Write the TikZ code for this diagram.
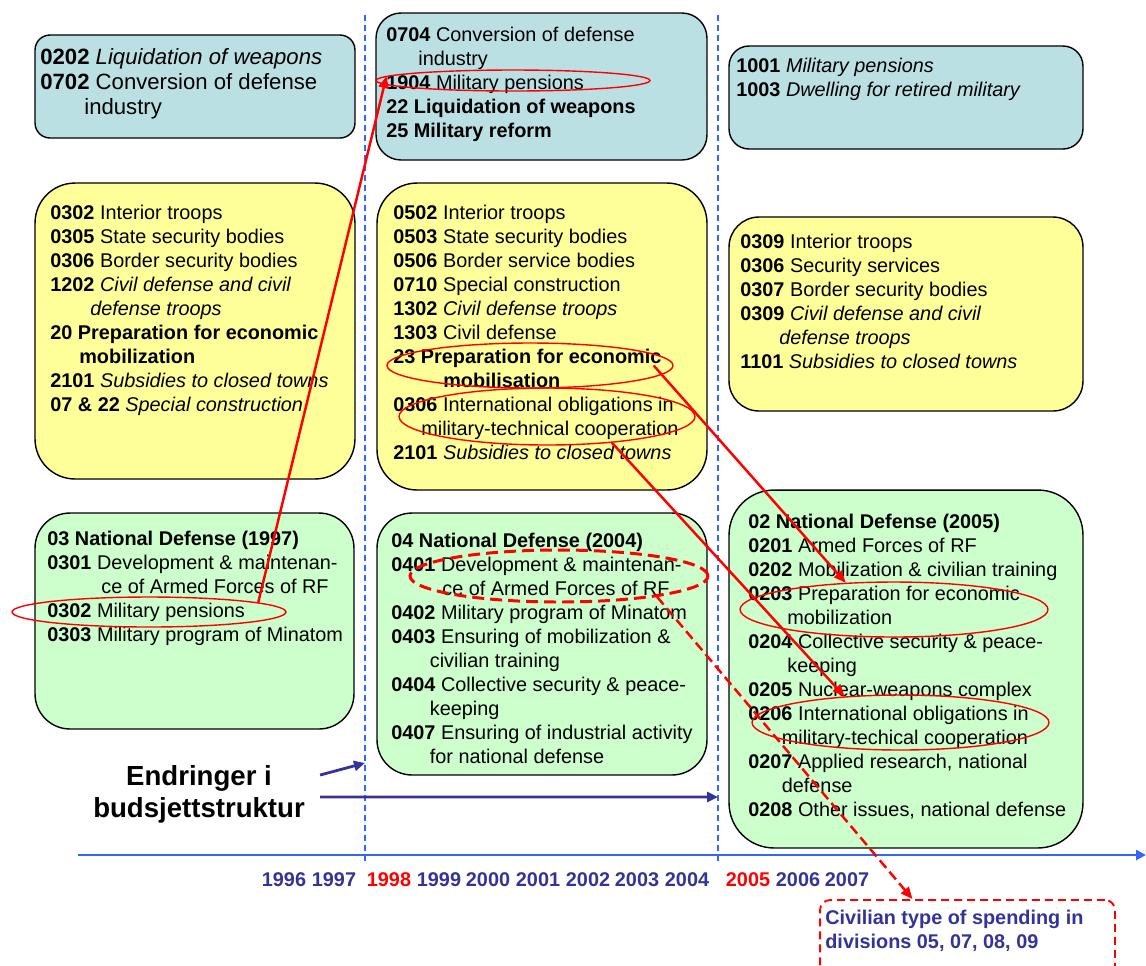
\documentclass[tikz,border=0pt]{standalone}
\usepackage{fontspec}
\setmainfont{Liberation Sans}
\usetikzlibrary{arrows.meta,shapes.geometric}
\definecolor{boxblue}{RGB}{187,224,227}
\definecolor{boxyellow}{RGB}{255,255,153}
\definecolor{boxgreen}{RGB}{204,255,204}
\definecolor{navy}{RGB}{51,51,153}
\definecolor{lineblue}{RGB}{51,102,255}
\definecolor{markred}{RGB}{255,0,0}
\begin{document}
\begin{tikzpicture}[x=0.02cm,y=-0.02cm,>={Triangle[length=0.24cm,width=0.2cm]},
  budget/.style={draw=black,line width=0.8pt,inner sep=0pt},
  items/.style={anchor=north west,inner sep=0pt,align=left,font=\fontsize{11.3}{13.66}\selectfont},
  ring/.style={ellipse,draw=markred,line width=0.8pt,inner sep=0pt},
  link/.style={draw=markred,line width=1.4pt,->},
  yearlbl/.style={inner sep=0pt,font=\fontsize{11.3}{13.66}\selectfont\bfseries}]
\useasboundingbox (0,0) rectangle (1146,965);
\clip (0,0) rectangle (1146,965);
% Timeline and the two breaks
\coordinate (ax0) at (78,855);
\coordinate (ax1) at (1146,855);
\draw[lineblue,line width=1.5pt,-{Triangle[length=0.2cm,width=0.2cm]}] (ax0) -- (ax1);
\coordinate (v1t) at (365,15); \coordinate (v1b) at (365,863);
\coordinate (v2t) at (718,15); \coordinate (v2b) at (718,863);
\draw[lineblue,line width=0.9pt,dash pattern=on 0.12cm off 0.08cm] (v1t) -- (v1b);
\draw[lineblue,line width=0.9pt,dash pattern=on 0.12cm off 0.08cm] (v2t) -- (v2b);
\foreach \yr/\xx/\col in {1996/284/navy,1997/334/navy,1998/389/markred,1999/439/navy,2000/488/navy,2001/538/navy,2002/588/navy,2003/637/navy,2004/687/navy,2005/748/markred,2006/798/navy,2007/847/navy}
  \node[yearlbl,text=\col] (y\yr) at (\xx,880) {\yr};
% Budget up to 1997
\node[budget,fill=boxblue,rounded corners=0.3cm,minimum width=6.4cm,minimum height=2.06cm] (b1) at (195,86.5) {};
\node[items,font=\fontsize{12.6}{14.2}\selectfont] (b1t) at (40,48.5) {\textbf{0202} \textit{Liquidation of weapons}\\
\textbf{0702} Conversion of defense\\
\hspace*{0.88cm}industry};
\node[budget,fill=boxyellow,rounded corners=0.8cm,minimum width=6.4cm,minimum height=5.92cm] (y1) at (195,331) {};
\node[items] (y1t) at (50,204.5) {\textbf{0302} Interior troops\\
\textbf{0305} State security bodies\\
\textbf{0306} Border security bodies\\
\textbf{1202} \textit{Civil defense and civil}\\
\hspace*{0.8cm}\textit{defense troops}\\
\textbf{20 Preparation for economic}\\
\hspace*{0.58cm}\textbf{mobilization}\\
\textbf{2101} \textit{Subsidies to closed towns}\\
\textbf{07 \& 22} \textit{Special construction}};
\node[budget,fill=boxgreen,rounded corners=0.7cm,minimum width=6.38cm,minimum height=4.32cm] (g1) at (194.5,621) {};
\node[items] (g1t) at (47,530.5) {\textbf{03 National Defense (1997)}\\
\textbf{0301} Development \& maintenan-\\
\hspace*{1.08cm}ce of Armed Forces of RF\\
\textbf{0302} Military pensions\\
\textbf{0303} Military program of Minatom};
% Budget 1998--2004
\node[budget,fill=boxblue,rounded corners=0.5cm,minimum width=6.62cm,minimum height=2.94cm] (b2) at (541.5,86.5) {};
\node[items] (b2t) at (386,26.5) {\textbf{0704} Conversion of defense\\
\hspace*{0.64cm}industry\\
\textbf{1904} Military pensions\\
\textbf{22 Liquidation of weapons}\\
\textbf{25 Military reform}};
\node[budget,fill=boxyellow,rounded corners=0.8cm,minimum width=6.6cm,minimum height=6.14cm] (y2) at (542,336.5) {};
\node[items] (y2t) at (393,204.5) {\textbf{0502} Interior troops\\
\textbf{0503} State security bodies\\
\textbf{0506} Border service bodies\\
\textbf{0710} Special construction\\
\textbf{1302} \textit{Civil defense troops}\\
\textbf{1303} Civil defense\\
\textbf{23 Preparation for economic}\\
\hspace*{1.0cm}\textbf{mobilisation}\\
\textbf{0306} International obligations in\\
\hspace*{0.56cm}military-technical cooperation\\
\textbf{2101} \textit{Subsidies to closed towns}};
\node[budget,fill=boxgreen,rounded corners=0.7cm,minimum width=6.6cm,minimum height=5.24cm] (g2) at (542,644) {};
\node[items] (g2t) at (391,532.5) {\textbf{04 National Defense (2004)}\\
\textbf{0401} Development \& maintenan-\\
\hspace*{1.02cm}ce of Armed Forces of RF\\
\textbf{0402} Military program of Minatom\\
\textbf{0403} Ensuring of mobilization \&\\
\hspace*{0.77cm}civilian training\\
\textbf{0404} Collective security \& peace-\\
\hspace*{0.77cm}keeping\\
\textbf{0407} Ensuring of industrial activity\\
\hspace*{0.77cm}for national defense};
% Budget from 2005
\node[budget,fill=boxblue,rounded corners=0.4cm,minimum width=7.08cm,minimum height=2.06cm] (b3) at (906,97.5) {};
\node[items] (b3t) at (736,57.5) {\textbf{1001} \textit{Military pensions}\\
\textbf{1003} \textit{Dwelling for retired military}};
\node[budget,fill=boxyellow,rounded corners=0.6cm,minimum width=7.08cm,minimum height=3.88cm] (y3) at (906,314) {};
\node[items] (y3t) at (740,233.5) {\textbf{0309} Interior troops\\
\textbf{0306} Security services\\
\textbf{0307} Border security bodies\\
\textbf{0309} \textit{Civil defense and civil}\\
\hspace*{0.78cm}\textit{defense troops}\\
\textbf{1101} \textit{Subsidies to closed towns}};
\node[budget,fill=boxgreen,rounded corners=0.9cm,minimum width=7.08cm,minimum height=7.16cm] (g3) at (906,669) {};
\node[items] (g3t) at (748,513.5) {\textbf{02 National Defense (2005)}\\
\textbf{0201} Armed Forces of RF\\
\textbf{0202} Mobilization \& civilian training\\
\textbf{0203} Preparation for economic\\
\hspace*{0.78cm}mobilization\\
\textbf{0204} Collective security \& peace-\\
\hspace*{0.78cm}keeping\\
\textbf{0205} Nuclear-weapons complex\\
\textbf{0206} International obligations in\\
\hspace*{0.67cm}military-techical cooperation\\
\textbf{0207} Applied research, national\\
\hspace*{0.67cm}defense\\
\textbf{0208} Other issues, national defense};
% Civilian spending note
\node[draw=markred,line width=1.1pt,dash pattern=on 0.16cm off 0.1cm,rounded corners=0.2cm,minimum width=5.9cm,minimum height=1.8cm,inner sep=0pt] (civ) at (967.5,945) {};
\node[items,text=navy,font=\fontsize{11.3}{13.66}\selectfont\bfseries] (civt) at (825,909.5) {Civilian type of spending in\\
divisions 05, 07, 08, 09};
% Marked items
\node[ring,minimum width=5.48cm,minimum height=0.42cm] (e1) at (513,80.5) {};
\node[ring,minimum width=5.48cm,minimum height=0.6cm] (e2) at (149,612) {};
\node[ring,minimum width=5.72cm,minimum height=0.9cm] (e3) at (530,365.5) {};
\node[ring,minimum width=5.92cm,minimum height=1.14cm] (e4) at (547,416.5) {};
\node[ring,line width=1.7pt,dash pattern=on 0.24cm off 0.12cm,minimum width=5.96cm,minimum height=1.04cm] (e5) at (559,576) {};
\node[ring,minimum width=6.16cm,minimum height=1.1cm] (e6) at (894,609.5) {};
\node[ring,minimum width=5.94cm,minimum height=1.1cm] (e7) at (900.5,722.5) {};
\draw[link] (e2.5) -- (e1.178);
\draw[link] ([xshift=-0.4cm]e3.east) -- (e6.151);
\draw[link] (e4.-22) -- (e7.155);
\draw[link,dash pattern=on 0.2cm off 0.1cm] (e5.-12) -- ([xshift=-1.1cm]civ.north);
% Endringer i budsjettstruktur
\node[inner sep=0pt,align=center,font=\fontsize{15.7}{18.2}\selectfont\bfseries] (endr) at (199,794) {Endringer i\\budsjettstruktur};
\coordinate (brk1) at (365,763);
\coordinate (brk2) at (718,797);
\draw[navy,line width=1.6pt,-{Triangle[length=0.22cm,width=0.2cm]}] ([xshift=0.3cm,yshift=0.38cm]endr.east) -- (brk1);
\draw[navy,line width=1.6pt,-{Triangle[length=0.22cm,width=0.2cm]}] ([xshift=0.3cm,yshift=-0.06cm]endr.east) -- (brk2);
\end{tikzpicture}
\end{document}
